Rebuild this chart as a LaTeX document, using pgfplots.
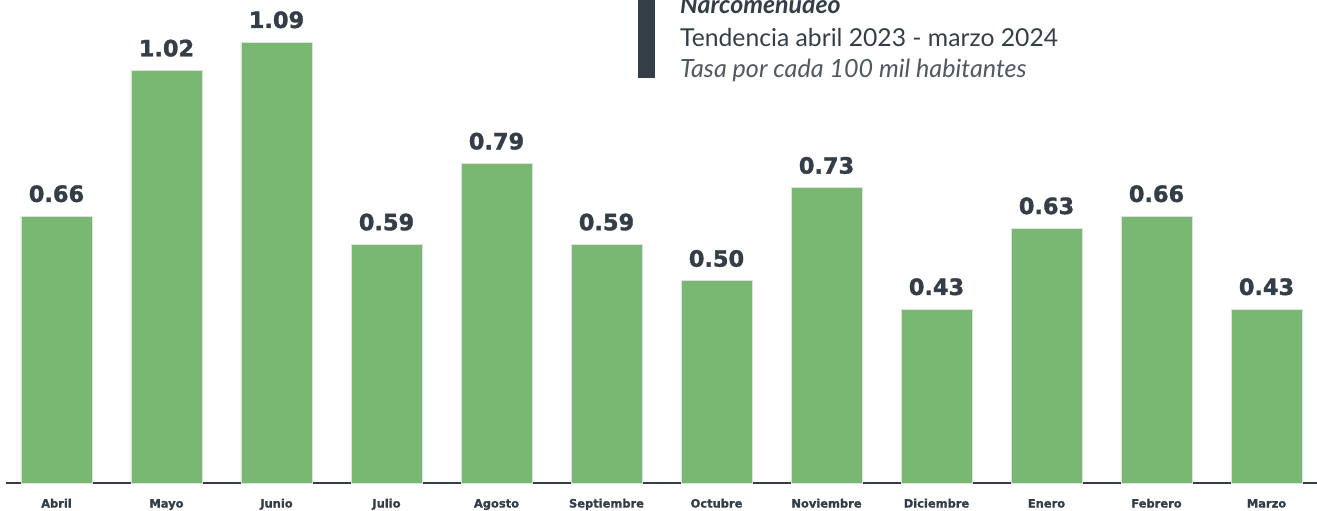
\documentclass[border=0pt]{standalone}
\usepackage{pgfplots}
\pgfplotsset{compat=1.18}
\usepackage{fontspec}
\setmainfont{Lato}
\newfontfamily\dvb{DejaVu Sans}[BoldFeatures={FakeBold=1.6}]
\newfontfamily\dvbs{DejaVu Sans}[BoldFeatures={FakeBold=1.2}]
\definecolor{barg}{RGB}{121,184,115}
\definecolor{dark}{RGB}{52,62,72}
\definecolor{sub}{RGB}{80,88,96}
\begin{document}
\begin{tikzpicture}
\begin{axis}[name=ax,
  scale only axis, width=1311bp, height=483bp,
  xmin=-0.459, xmax=11.459, ymin=0, ymax=1.1941,
  axis x line*=bottom, axis y line=none,
  x axis line style={draw=dark, line width=2bp, -},
  ytick=\empty,
  xtick=data, major tick length=0,
  xticklabels={Abril,Mayo,Junio,Julio,Agosto,Septiembre,Octubre,Noviembre,Diciembre,Enero,Febrero,Marzo},
  xticklabel style={font=\fontsize{11.5}{13}\selectfont\dvbs\bfseries, text=dark, anchor=base, yshift=-24.5bp, inner sep=0pt},
  ybar, bar width=71bp, bar shift=0pt,
  clip=false,
  nodes near coords,
  nodes near coords style={font=\fontsize{22.5}{26}\selectfont\dvb\bfseries, text=dark, anchor=south, inner sep=0pt, yshift=13.5bp,
    /pgf/number format/.cd, fixed, fixed zerofill, precision=2, assume math mode=true},
]
\addplot[fill=barg, draw=black!12, line width=0.6bp] coordinates {
(0,0.66) (1,1.02) (2,1.09) (3,0.59) (4,0.79) (5,0.59) (6,0.50) (7,0.73) (8,0.43) (9,0.63) (10,0.66) (11,0.43)};
\end{axis}
\fill[dark] ([xshift=632bp]ax.north west) rectangle ([xshift=649bp,yshift=-78bp]ax.north west);
\node[anchor=base west, inner sep=0pt, text=dark, font=\fontsize{25}{30}\selectfont\bfseries\itshape] at ([xshift=674bp,yshift=-14bp]ax.north west) {Narcomenudeo};
\node[anchor=base west, inner sep=0pt, text=dark, font=\fontsize{24.8}{30}\selectfont] at ([xshift=674bp,yshift=-46.5bp]ax.north west) {Tendencia abril 2023 - marzo 2024};
\node[anchor=base west, inner sep=0pt, text=sub, font=\fontsize{25.2}{30}\selectfont\itshape] at ([xshift=674bp,yshift=-77.5bp]ax.north west) {Tasa por cada 100 mil habitantes};
\pgfresetboundingbox
\path[use as bounding box] ([xshift=-6bp,yshift=-28bp]ax.south west) rectangle (ax.north east);
\end{tikzpicture}
\end{document}
